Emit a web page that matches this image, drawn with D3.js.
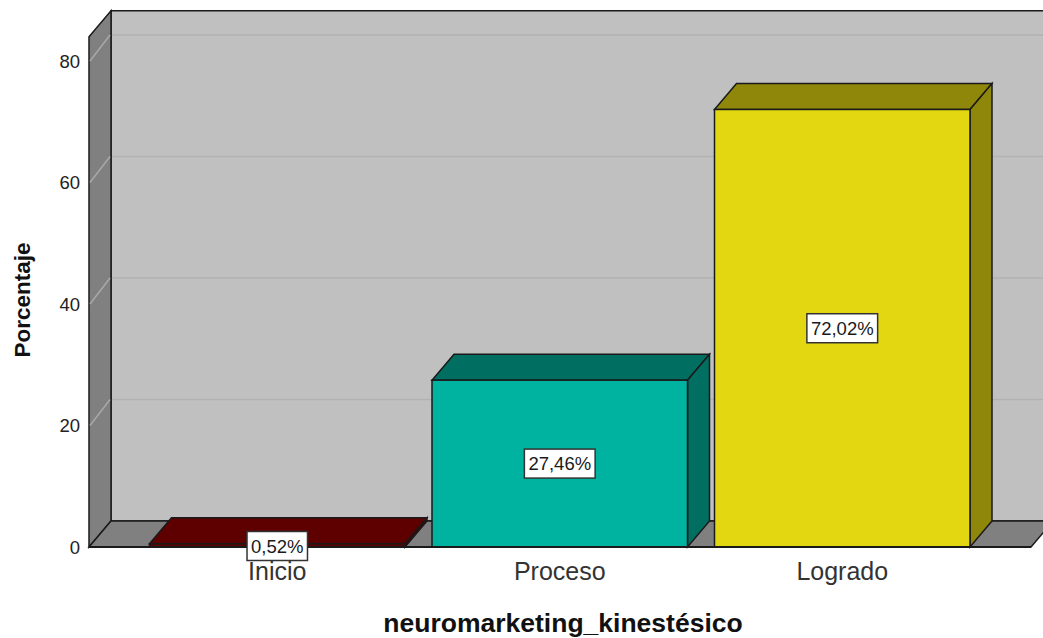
<!DOCTYPE html>
<html>
<head>
<meta charset="utf-8">
<script src="https://cdn.jsdelivr.net/npm/d3@7"></script>
<style>
  body { margin: 0; background: #fff; }
  svg { display: block; font-family: "Liberation Sans", Arial, sans-serif; }
</style>
</head>
<body>
<script>
// chart data
var categories = ["Inicio", "Proceso", "Logrado"];
var values = [0.52, 27.46, 72.02];
var frontColors = ["#5e0000", "#00b3a0", "#e3d712"];
var topColors = ["#5e0000", "#006f61", "#8f870a"];
var sideColors = ["#4a0000", "#006f61", "#8f870a"];
var yTicks = [0, 20, 40, 60, 80];

var w = 1043, h = 638;
var depthX = 22, depthY = -26;

var svg = d3.select("body").append("svg")
    .attr("width", w)
    .attr("height", h);

var y = d3.scaleLinear().domain([0, 84]).range([547, 36.7]);
var x = d3.scaleBand().domain(categories)
    .range([136, 983.5])
    .paddingInner(0.0956)
    .paddingOuter(0.0478);

var fmt = d3.formatLocale({decimal: ",", thousands: ".", grouping: [3], currency: ["", ""]}).format(".2f");

var left = 89, right = 1031;
var y0 = y(0), yTop = y(84);

function pts(a) { return a.map(function(p) { return p.join(","); }).join(" "); }

var frame = svg.append("g");

// back wall
frame.append("polygon")
    .attr("points", pts([[left + depthX, yTop + depthY], [w + 40, yTop + depthY], [w + 40, y0 + depthY], [left + depthX, y0 + depthY]]))
    .style("fill", "#c0c0c0")
    .style("stroke", "#1a1a1a")
    .style("stroke-width", 1.5);

// left wall
frame.append("polygon")
    .attr("points", pts([[left, y0], [left, yTop], [left + depthX, yTop + depthY], [left + depthX, y0 + depthY]]))
    .style("fill", "#808080")
    .style("stroke", "#1a1a1a")
    .style("stroke-width", 1.5);

// floor
frame.append("polygon")
    .attr("points", pts([[left, y0], [right, y0], [right + depthX, y0 + depthY], [left + depthX, y0 + depthY]]))
    .style("fill", "#808080")
    .style("stroke", "#1a1a1a")
    .style("stroke-width", 1.5);

// gridlines on back wall and left wall
var grid = yTicks.filter(function(d) { return d > 0; });
frame.selectAll(".gback").data(grid).enter().append("line")
    .attr("x1", left + depthX + 1).attr("x2", w)
    .attr("y1", function(d) { return y(d) + depthY; })
    .attr("y2", function(d) { return y(d) + depthY; })
    .style("stroke", "#b2b2b2")
    .style("stroke-width", 1.5);

frame.selectAll(".gside").data(grid).enter().append("line")
    .attr("x1", left + 1).attr("x2", left + depthX - 1)
    .attr("y1", function(d) { return y(d); })
    .attr("y2", function(d) { return y(d) + depthY; })
    .style("stroke", "#a8a8a8")
    .style("stroke-width", 1.5);

// y tick labels
svg.selectAll(".tick").data(yTicks).enter().append("text")
    .attr("x", 80)
    .attr("y", function(d) { return y(d) + 6.5; })
    .attr("text-anchor", "end")
    .attr("font-size", "18.5px")
    .attr("fill", "#222")
    .text(function(d) { return d; });

// bars
var bars = svg.selectAll(".bar").data(values).enter().append("g");

bars.each(function(v, i) {
    var g = d3.select(this);
    var x0 = x(categories[i]), x1 = x0 + x.bandwidth();
    var yt = y(v);
    // top face
    g.append("polygon")
        .attr("points", pts([[x0, yt], [x1, yt], [x1 + depthX, yt + depthY], [x0 + depthX, yt + depthY]]))
        .style("fill", topColors[i])
        .style("stroke", "#1a1a1a")
        .style("stroke-width", 1.5);
    // right side
    g.append("polygon")
        .attr("points", pts([[x1, yt], [x1 + depthX, yt + depthY], [x1 + depthX, y0 + depthY], [x1, y0]]))
        .style("fill", sideColors[i])
        .style("stroke", "#1a1a1a")
        .style("stroke-width", 1.5);
    // front
    g.append("rect")
        .attr("x", x0).attr("y", yt)
        .attr("width", x.bandwidth())
        .attr("height", y0 - yt)
        .style("fill", frontColors[i])
        .style("stroke", "#1a1a1a")
        .style("stroke-width", 1.5);
});

// front axis line
svg.append("line")
    .attr("x1", left).attr("x2", right)
    .attr("y1", y0).attr("y2", y0)
    .style("stroke", "#1a1a1a")
    .style("stroke-width", 2);

// value labels
var labs = svg.selectAll(".vlab").data(values).enter().append("g")
    .attr("transform", function(d, i) {
        var cy = i === 0 ? 546 : (y(d) + y0) / 2;
        return "translate(" + (x(categories[i]) + x.bandwidth() / 2) + "," + cy + ")";
    });

labs.append("text")
    .attr("text-anchor", "middle")
    .attr("y", 6.5)
    .attr("font-size", "18.5px")
    .attr("fill", "#1a1a1a")
    .text(function(d) { return fmt(d) + "%"; })
    .each(function() {
        var b = this.getBBox();
        d3.select(this.parentNode).insert("rect", "text")
            .attr("x", b.x - 4).attr("y", -14.5)
            .attr("width", b.width + 8).attr("height", 29)
            .style("fill", "#fff")
            .style("stroke", "#333")
            .style("stroke-width", 1.5);
    });

// category labels
svg.selectAll(".cat").data(categories).enter().append("text")
    .attr("x", function(d) { return x(d) + x.bandwidth() / 2; })
    .attr("y", 580)
    .attr("text-anchor", "middle")
    .attr("font-size", "25px")
    .attr("fill", "#333")
    .text(function(d) { return d; });

// axis titles
svg.append("text")
    .attr("x", 563).attr("y", 632)
    .attr("text-anchor", "middle")
    .attr("font-size", "26.5px")
    .attr("font-weight", "bold")
    .attr("fill", "#111")
    .text("neuromarketing_kinestésico");

svg.append("text")
    .attr("transform", "translate(30,300) rotate(-90)")
    .attr("text-anchor", "middle")
    .attr("font-size", "22.5px")
    .attr("font-weight", "bold")
    .attr("fill", "#111")
    .text("Porcentaje");
</script>
</body>
</html>
